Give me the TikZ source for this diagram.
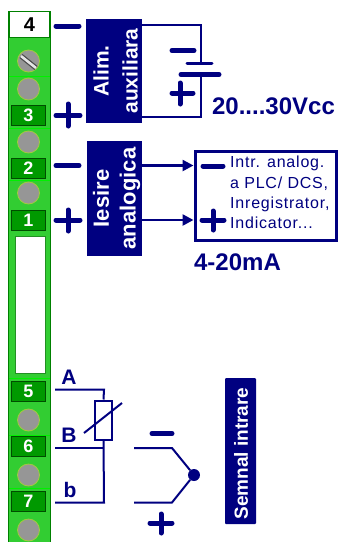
\documentclass[tikz,border=0pt]{standalone}
\usepackage{fontspec}
\setmainfont{Liberation Sans}
\newfontfamily\spaced[LetterSpace=5]{Liberation Sans}
\definecolor{nv}{RGB}{0,0,128}
\definecolor{gs}{RGB}{50,205,50}
\definecolor{gd}{RGB}{0,128,0}
\definecolor{gl}{RGB}{0,240,0}
\definecolor{gb}{RGB}{0,153,0}
\definecolor{sc}{RGB}{150,150,150}
\tikzset{
 wire/.style={draw=nv,line width=2pt},
 sign/.style={draw=nv,line width=5pt,line cap=round},
 numbox/.style={draw=black!40!gd,line width=.8pt,fill=gb,text=white,font=\bfseries\fontsize{18}{18}\selectfont,minimum width=34pt,minimum height=20pt,inner sep=0pt},
 screw/.style={circle,draw=yellow!50!gs,line width=.8pt,fill=sc,minimum size=22pt,inner sep=0pt},
 blockbox/.style={fill=nv,inner sep=0pt},
 vtext/.style={white,font=\bfseries\fontsize{21}{21}\selectfont,rotate=90,inner sep=0pt},
 lab/.style={text=nv,font=\bfseries\fontsize{24}{24}\selectfont,inner sep=0pt},
 letter/.style={text=nv,font=\bfseries\fontsize{21}{21}\selectfont,inner sep=0pt},
 small/.style={text=nv,font=\spaced\fontsize{16}{20.3}\selectfont,inner sep=0pt,align=left,anchor=north west},
 tip/.style={-{Triangle[length=11pt,width=11pt]}},
}
\usetikzlibrary{arrows.meta}
\begin{document}
\begin{tikzpicture}[x=1pt,y=-1pt]
\useasboundingbox (0,0) rectangle (341,542);
\fill[white] (0,0) rectangle (341,542);
% strip
\fill[gs] (8,11) rectangle (51,542);
\draw[gd,line width=1.2pt] (8.5,11) -- (8.5,542) (50.5,11) -- (50.5,542);
\foreach \yy in {76,128,378,435,488} \draw[gl,line width=1pt] (9,\yy) -- (50,\yy);
\draw[gl,line width=.5pt] (9,180) -- (50,180);
\node[draw=gd,line width=1.5pt,fill=white,minimum width=41pt,minimum height=26pt,inner sep=0pt,font=\bfseries\fontsize{20}{20}\selectfont] (n4) at (29.5,24.5) {4};
\node[draw=gs!70!black,fill=white,line width=1pt,minimum width=30pt,minimum height=137pt,inner sep=0pt] (slot) at (30,304.5) {};
\foreach \nm/\yy in {s1/61,s2/89,s3/142,s4/193,s5/420,s6/475,s7/530} \node[screw] (\nm) at (28.5,\yy) {};
\draw[black!70,line width=5pt] (21,56) -- (36,68);
\draw[white!80!gray,line width=2.5pt] (21,56) -- (36,68);
\node[numbox] (n3) at (28.5,115) {3};
\node[numbox] (n2) at (28.5,168) {2};
\node[numbox] (n1) at (28.5,220.5) {1};
\node[numbox] (n5) at (28.5,391.5) {5};
\node[numbox] (n6) at (28.5,446) {6};
\node[numbox] (n7) at (28.5,501) {7};
% terminal signs
\draw[sign] (56,26) -- (79,26);
\draw[sign] (56,115.5) -- (80,115.5) (68,104) -- (68,126);
\draw[sign] (56,165.5) -- (79,165.5);
\draw[sign] (56,220) -- (80,220) (68,210) -- (68,231);
% blocks
\node[blockbox,minimum width=56pt,minimum height=104pt] (alim) at (114,71) {};
\node[vtext] (alimA) at (101,71) {Alim.};
\node[vtext] (alimB) at (130,71) {auxiliara};
\node[blockbox,minimum width=55pt,minimum height=115pt] (ies) at (114.5,198.5) {};
\node[vtext,font=\bfseries\fontsize{22}{22}\selectfont] (iesA) at (101,198.5) {Iesire};
\node[vtext,font=\bfseries\fontsize{22}{22}\selectfont] (iesB) at (130,198.5) {analogica};
% battery
\coordinate (bt) at (201,63);
\coordinate (bb) at (201,74);
\draw[wire] (alim.east |- 0,25) -| (bt);
\draw[wire] (alim.east |- 0,117) -| (bb);
\draw[draw=nv,line width=3pt,line cap=round] (187,63.5) -- (212,63.5);
\draw[sign] (181,74.5) -- (219,74.5);
\draw[sign] (172,50.5) -- (194,50.5);
\draw[sign] (172,93) -- (193,93) (180,83) -- (180,104);
\node[lab] (vcc) at (273.5,106) {20....30Vcc};
% output box
\node[draw=nv,line width=3pt,fill=white,minimum width=141pt,minimum height=89pt,inner sep=0pt] (out) at (265.5,195.5) {};
\coordinate (a1) at (142,165.5);
\coordinate (a2) at (142,220);
\draw[wire,line width=2.5pt,tip] (a1) -- (a1 -| out.west);
\draw[wire,line width=2.5pt,tip] (a2) -- (a2 -| out.west);
\draw[sign] (203,166) -- (223,166);
\draw[sign] (202,220) -- (224,220) (213,211) -- (213,230);
\node[small] (txt) at (230,156) {Intr. analog.\\a PLC/ DCS,\\Inregistrator,\\Indicator...};
\node[lab] (ma) at (237.5,262) {4-20mA};
% sensor
\coordinate (j1) at (104,389.5);
\coordinate (j2) at (104,448);
\coordinate (j3) at (104,502.5);
\node[draw=nv,line width=2pt,fill=white,minimum width=17pt,minimum height=39pt,inner sep=0pt] (res) at (103.5,420) {};
\draw[wire] (55,389.5) -- (j1) -- (res.north);
\draw[wire] (res.south) -- (j3) -- (55,502.5);
\draw[wire] (55,448) -- (j2);
\draw[wire] (84,433) -- (122,403);
\node[letter] (la) at (69,377) {A};
\node[letter] (lb) at (69,435) {B};
\node[letter] (lc) at (70,490) {b};
\node[circle,fill=nv,minimum size=12pt,inner sep=0pt] (tc) at (194,475) {};
\draw[wire] (134,448) -- (172,448) -- (tc);
\draw[wire] (134,502.5) -- (172,502.5) -- (tc);
\draw[sign] (152,433.5) -- (172,433.5);
\draw[sign] (150,523) -- (172,523) (161,514) -- (161,533);
\node[fill=nv,rounded corners=1pt,minimum width=31pt,minimum height=146pt,inner sep=0pt] (sem) at (240.5,451) {};
\node[vtext,font=\bfseries\fontsize{19}{19}\selectfont] (semt) at (241,453.5) {Semnal intrare};
\end{tikzpicture}
\end{document}
